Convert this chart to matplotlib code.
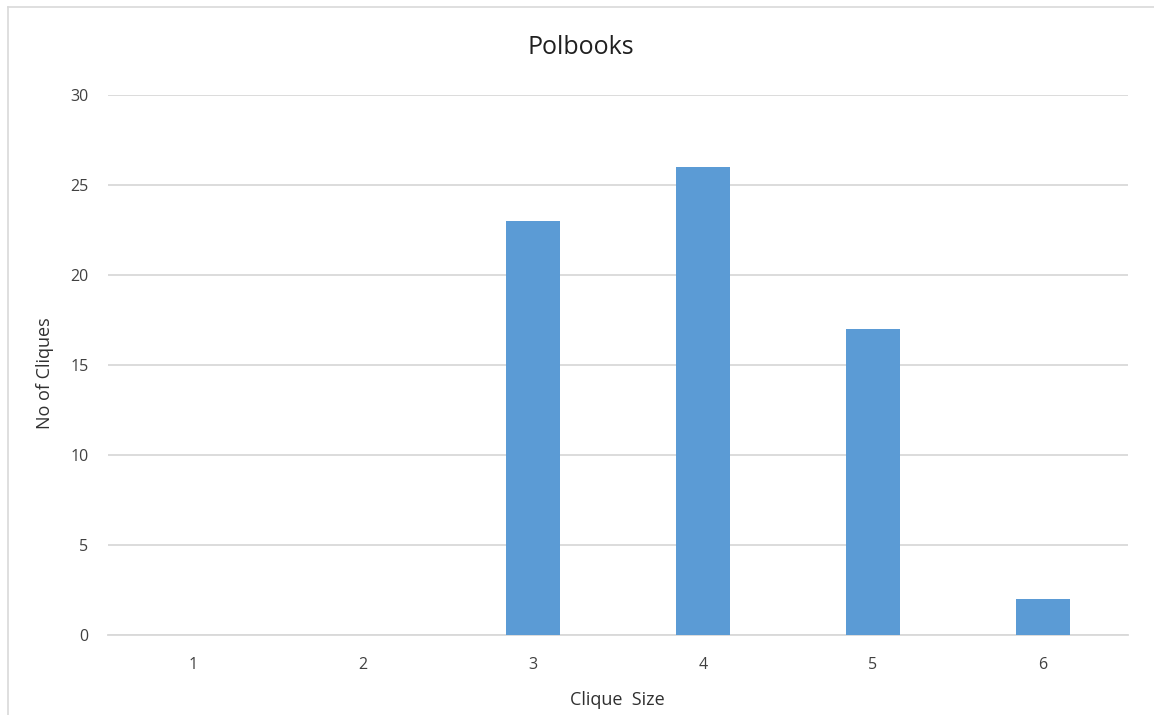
import matplotlib
matplotlib.use("Agg")
import matplotlib.pyplot as plt
from matplotlib.lines import Line2D

clique_sizes = [1, 2, 3, 4, 5, 6]
clique_counts = [0, 0, 23, 26, 17, 2]
y_ticks = [0, 5, 10, 15, 20, 25, 30]

plt.rcParams['font.family'] = ['Open Sans', 'DejaVu Sans']

W, H = 1154, 715
fig = plt.figure(figsize=(W / 100, H / 100), dpi=100)
ax = fig.add_axes([0.0936, 0.1119, 0.8839, 0.7552])

ax.bar(clique_sizes, clique_counts, width=0.32, color='#5B9BD5', zorder=3)

ax.set_xlim(0.5, 6.5)
ax.set_ylim(0, 30)
ax.set_yticks(y_ticks)
ax.set_xticks(clique_sizes)
ax.set_xticklabels([str(c) for c in clique_sizes])
ax.grid(axis='y', color='#D9D9D9', linewidth=1.3, zorder=0)
ax.set_axisbelow(True)
for side in ['top', 'right', 'left']:
    ax.spines[side].set_visible(False)
ax.spines['bottom'].set_color('#D9D9D9')
ax.spines['bottom'].set_linewidth(1.3)
ax.tick_params(axis='both', length=0, labelsize=11.5, colors='#404040')
ax.tick_params(axis='y', pad=14)
ax.tick_params(axis='x', pad=16)

fig.text(581 / W, 1 - 48 / H, 'Polbooks', fontsize=18, color='#202020',
         ha='center', va='center')
fig.text(617 / W, 1 - 700 / H, 'Clique  Size', fontsize=13, color='#303030',
         ha='center', va='center')
fig.text(45 / W, 1 - 373 / H, 'No of Cliques', fontsize=13, color='#303030',
         ha='center', va='center', rotation=90)

# Thin frame around the chart area
fig.add_artist(Line2D([8 / W, 8 / W], [0, 1 - 7 / H],
                      transform=fig.transFigure, color='#D9D9D9', linewidth=1.2))
fig.add_artist(Line2D([8 / W, 1], [1 - 7 / H, 1 - 7 / H],
                      transform=fig.transFigure, color='#D9D9D9', linewidth=1.2))

fig.savefig('out.png', dpi=100, facecolor='white')
